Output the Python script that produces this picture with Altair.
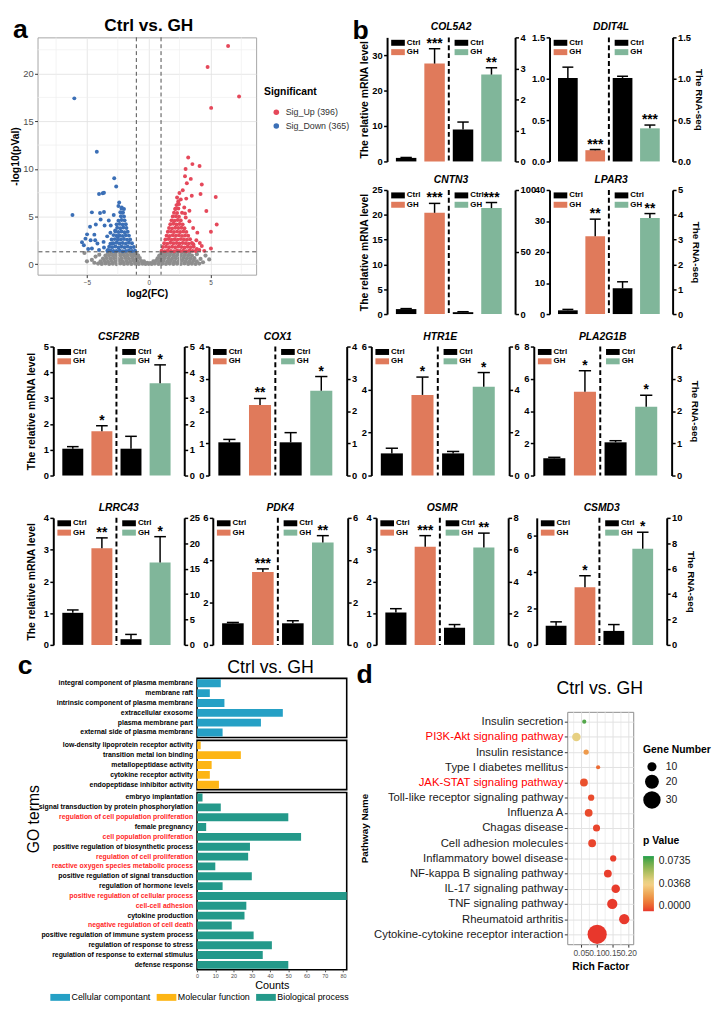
import json
import altair as alt
import pandas as pd

FONT = "Liberation Sans"

# ======================= panel a : volcano =======================
n_up = 396
n_down = 365
fc_threshold = [-1.0, 1.0]
p_threshold = [1.3]
fc_major_ticks = [-5, 0, 5]
fc_minor_ticks = [-7.5, -2.5, 2.5, 7.5]
lp_major_ticks = [0, 5, 10, 15, 20]
lp_minor_ticks = [2.5, 7.5, 12.5, 17.5, 22.5]

up_points = [
    (6.43, 22.9), (4.77, 20.7), (7.32, 17.6), (5.06, 16.4), (3.20, 11.2), (3.54, 10.5), (4.12, 10.3),
    (2.99, 9.98), (2.94, 9.22), (3.41, 8.95), (3.09, 8.50), (4.30, 8.37), (2.76, 7.75), (2.49, 7.47),
    (4.20, 7.37), (3.49, 7.19), (5.43, 7.06), (3.04, 6.88), (2.39, 6.40), (2.17, 5.82), (2.88, 5.95),
    (4.67, 5.58), (2.94, 5.33), (5.51, 4.16), (5.04, 3.41), (3.94, 3.31), (3.86, 2.51), (4.14, 2.23),
    (5.04, 1.65), (3.62, 2.10), (4.30, 1.90), (4.10, 1.50), (2.60, 6.80), (2.30, 7.00), (3.30, 4.50),
    (3.60, 3.80), (4.50, 1.40), (3.00, 4.90), (2.70, 5.40), (3.90, 1.60), (3.30, 5.60),
    (1.05, 1.42), (1.30, 1.37), (1.55, 1.44), (1.80, 1.40), (2.05, 1.36), (2.30, 1.45), (2.55, 1.39),
    (2.80, 1.42), (3.05, 1.37), (3.30, 1.44), (3.55, 1.40), (3.80, 1.38),
    (1.15, 1.80), (1.40, 1.84), (1.65, 1.77), (1.90, 1.82), (2.15, 1.78), (2.40, 1.85), (2.65, 1.80),
    (2.90, 1.76), (3.15, 1.83), (3.40, 1.79), (3.65, 1.82),
    (1.25, 2.20), (1.50, 2.16), (1.75, 2.24), (2.00, 2.19), (2.25, 2.22), (2.50, 2.17), (2.75, 2.23),
    (3.00, 2.20), (3.25, 2.16), (3.50, 2.22),
    (1.35, 2.60), (1.60, 2.64), (1.85, 2.57), (2.10, 2.62), (2.35, 2.58), (2.60, 2.63), (2.85, 2.60),
    (3.10, 2.56), (3.35, 2.62),
    (1.45, 3.00), (1.70, 2.96), (1.95, 3.04), (2.20, 2.99), (2.45, 3.03), (2.70, 2.97), (2.95, 3.02), (3.20, 2.98),
    (1.55, 3.40), (1.80, 3.44), (2.05, 3.37), (2.30, 3.42), (2.55, 3.38), (2.80, 3.43), (3.05, 3.39),
    (1.65, 3.80), (1.90, 3.76), (2.15, 3.83), (2.40, 3.79), (2.65, 3.82), (2.90, 3.77),
    (1.75, 4.20), (2.00, 4.24), (2.25, 4.17), (2.50, 4.22), (2.75, 4.18),
    (1.85, 4.60), (2.10, 4.56), (2.35, 4.63), (2.60, 4.58),
    (1.95, 5.00), (2.20, 5.04), (2.45, 4.97), (2.05, 5.40), (2.30, 5.37),
    (2.15, 5.80), (2.40, 5.84), (2.25, 6.20), (2.45, 6.30), (2.40, 6.60),
]

down_points = [
    (-6.02, 17.4), (-4.20, 11.8), (-6.17, 5.16), (-2.79, 9.02), (-2.63, 8.16), (-4.02, 7.37), (-3.72, 7.45),
    (-3.62, 7.50), (-2.39, 6.47), (-4.60, 5.44), (-3.94, 5.37), (-3.62, 5.47), (-4.28, 4.16), (-4.75, 3.92),
    (-3.89, 4.68), (-3.23, 4.58), (-3.57, 4.06), (-2.83, 5.16), (-3.07, 4.06), (-4.99, 3.13), (-5.12, 2.68),
    (-5.25, 1.99), (-4.70, 2.51), (-4.33, 2.51), (-4.15, 2.17), (-4.60, 1.65), (-4.02, 1.48), (-3.65, 2.34),
    (-3.36, 2.92), (-3.62, 1.75), (-2.97, 2.17), (-2.71, 3.54), (-2.50, 2.85), (-2.18, 5.95), (-2.10, 5.44),
    (-5.40, 2.30), (-4.90, 1.60), (-3.30, 1.50), (-3.10, 3.30), (-4.40, 3.10), (-2.45, 6.10), (-2.00, 5.80),
    (-1.10, 1.42), (-1.35, 1.38), (-1.60, 1.45), (-1.85, 1.40), (-2.10, 1.36), (-2.35, 1.44), (-2.60, 1.40),
    (-2.85, 1.38), (-3.10, 1.45), (-3.35, 1.41),
    (-1.20, 1.80), (-1.45, 1.76), (-1.70, 1.84), (-1.95, 1.78), (-2.20, 1.82), (-2.45, 1.75), (-2.70, 1.85),
    (-2.95, 1.79), (-3.20, 1.83),
    (-1.35, 2.20), (-1.60, 2.25), (-1.85, 2.16), (-2.10, 2.22), (-2.35, 2.18), (-2.60, 2.24), (-2.85, 2.20),
    (-3.10, 2.15),
    (-1.50, 2.60), (-1.75, 2.56), (-2.00, 2.64), (-2.25, 2.60), (-2.50, 2.57), (-2.75, 2.63), (-3.00, 2.60),
    (-1.60, 3.00), (-1.85, 3.04), (-2.10, 2.97), (-2.35, 3.02), (-2.60, 2.98), (-2.85, 3.05),
    (-1.70, 3.40), (-1.95, 3.36), (-2.20, 3.43), (-2.45, 3.38), (-2.70, 3.42),
    (-1.80, 3.80), (-2.05, 3.84), (-2.30, 3.77), (-2.55, 3.82),
    (-1.85, 4.20), (-2.10, 4.16), (-2.35, 4.23), (-2.60, 4.18),
    (-1.95, 4.60), (-2.20, 4.64), (-2.45, 4.57), (-2.00, 5.00), (-2.25, 5.04),
    (-2.10, 5.40), (-2.30, 5.45), (-2.20, 5.85),
]

ns_points = [
    (-4.1, 0.06), (-3.8, 0.03), (-3.5, 0.08), (-3.2, 0.02), (-2.9, 0.05), (-2.6, 0.01), (-2.3, 0.07),
    (-2.0, 0.03), (-1.7, 0.05), (-1.4, 0.02), (-1.1, 0.06), (-0.8, 0.03), (-0.5, 0.05), (-0.25, 0.02),
    (0.0, 0.04), (0.25, 0.02), (0.5, 0.06), (0.8, 0.03), (1.1, 0.05), (1.4, 0.02), (1.7, 0.06), (2.0, 0.03),
    (2.3, 0.05), (2.6, 0.02), (2.9, 0.07), (3.2, 0.03), (3.5, 0.05), (3.8, 0.02), (4.1, 0.06),
    (-3.9, 0.30), (-3.6, 0.34), (-3.3, 0.29), (-3.0, 0.33), (-2.7, 0.31), (-2.4, 0.35), (-2.1, 0.30),
    (-1.8, 0.33), (-1.5, 0.29), (-1.2, 0.34), (-0.9, 0.31), (-0.6, 0.33), (-0.38, 0.30), (0.38, 0.31),
    (0.6, 0.34), (0.9, 0.30), (1.2, 0.33), (1.5, 0.29), (1.8, 0.34), (2.1, 0.31), (2.4, 0.30), (2.7, 0.35),
    (3.0, 0.32), (3.3, 0.29), (3.6, 0.33), (3.9, 0.30),
    (-3.7, 0.60), (-3.4, 0.64), (-3.1, 0.60), (-2.8, 0.63), (-2.5, 0.59), (-2.2, 0.62), (-1.9, 0.65),
    (-1.6, 0.60), (-1.3, 0.63), (-1.0, 0.60), (-0.72, 0.64), (0.72, 0.62), (1.0, 0.60), (1.3, 0.64),
    (1.6, 0.61), (1.9, 0.60), (2.2, 0.63), (2.5, 0.60), (2.8, 0.64), (3.1, 0.61), (3.4, 0.60), (3.7, 0.63),
    (-3.5, 0.90), (-3.2, 0.94), (-2.9, 0.90), (-2.6, 0.93), (-2.3, 0.91), (-2.0, 0.95), (-1.7, 0.90),
    (-1.4, 0.93), (-1.15, 0.91), (-0.92, 0.94), (0.92, 0.92), (1.15, 0.90), (1.4, 0.94), (1.7, 0.91),
    (2.0, 0.90), (2.3, 0.93), (2.6, 0.90), (2.9, 0.94), (3.2, 0.91), (3.5, 0.90),
    (-3.3, 1.18), (-3.0, 1.20), (-2.7, 1.16), (-2.4, 1.20), (-2.1, 1.17), (-1.8, 1.21), (-1.5, 1.18),
    (-1.25, 1.20), (-1.05, 1.17), (1.05, 1.19), (1.25, 1.17), (1.5, 1.20), (1.8, 1.18), (2.1, 1.21),
    (2.4, 1.17), (2.7, 1.20), (3.0, 1.18), (3.3, 1.19),
    (-5.2, 1.17), (-4.3, 0.80), (-4.6, 0.45), (-4.4, 0.15), (-5.0, 0.30), (4.4, 0.20), (4.2, 0.55),
    (4.6, 0.90), (4.9, 0.50), (-0.12, 0.14), (0.12, 0.12), (-0.85, 0.90), (0.85, 0.88), (-4.0, 1.00), (3.9, 1.05),
]

# ======================= panel b : qPCR vs RNA-seq =======================
genes = ["COL5A2", "DDIT4L", "CNTN3", "LPAR3", "CSF2RB", "COX1", "HTR1E", "PLA2G1B",
         "LRRC43", "PDK4", "OSMR", "CSMD3"]
qpcr_ctrl = [1.0, 1.01, 1.0, 1.2, 1.04, 1.03, 1.03, 1.07, 1.01, 1.02, 1.02, 1.06]
qpcr_ctrl_err = [0.12, 0.13, 0.1, 0.3, 0.08, 0.09, 0.24, 0.06, 0.09, 0.04, 0.12, 0.21]
qpcr_gh = [27.6, 0.136, 20.4, 25.1, 1.72, 2.19, 3.75, 5.2, 3.04, 3.44, 3.09, 3.17]
qpcr_gh_err = [4.2, 0.008, 1.9, 5.5, 0.21, 0.20, 0.83, 1.3, 0.33, 0.15, 0.35, 0.64]
seq_ctrl = [1.03, 1.01, 1.5, 1.04, 1.04, 1.03, 1.03, 1.03, 1.12, 1.02, 1.08, 1.10]
seq_ctrl_err = [0.24, 0.02, 0.4, 0.26, 0.48, 0.30, 0.09, 0.05, 0.94, 0.12, 0.20, 0.50]
seq_gh = [2.80, 0.40, 85.4, 3.87, 3.58, 2.63, 4.13, 2.13, 16.2, 4.84, 6.14, 7.57]
seq_gh_err = [0.22, 0.04, 4.5, 0.18, 0.71, 0.44, 0.66, 0.36, 5.1, 0.32, 0.90, 1.30]
stars_qpcr = ["***", "***", "***", "**", "*", "**", "*", "*", "**", "***", "***", "*"]
stars_seq = ["**", "***", "***", "**", "*", "*", "*", "*", "*", "**", "**", "*"]
qpcr_axis_max = [35, 1.5, 25, 40, 5, 4, 6, 8, 4, 6, 4, 7]
qpcr_axis_ticks = [[0, 10, 20, 30], [0, 0.5, 1.0, 1.5], [0, 5, 10, 15, 20, 25], [0, 10, 20, 30, 40],
                   [0, 1, 2, 3, 4, 5], [0, 1, 2, 3, 4], [0, 2, 4, 6], [0, 2, 4, 6, 8],
                   [0, 1, 2, 3, 4], [0, 2, 4, 6], [0, 1, 2, 3, 4], [0, 2, 4, 6]]
seq_axis_max = [4, 1.5, 100, 5, 5, 4, 6, 4, 25, 6, 8, 10]
seq_axis_ticks = [[0, 1, 2, 3, 4], [0, 0.5, 1.0, 1.5], [0, 50, 100], [0, 1, 2, 3, 4, 5],
                  [0, 1, 2, 3, 4, 5], [0, 1, 2, 3, 4], [0, 2, 4, 6], [0, 1, 2, 3, 4],
                  [0, 5, 10, 15, 20, 25], [0, 2, 4, 6], [0, 2, 4, 6, 8], [0, 2, 4, 6, 8, 10]]
groups = ["Ctrl", "GH"]

# ======================= panel c : GO =======================
cc_terms = ["integral component of plasma membrane", "membrane raft", "intrinsic component of plasma membrane",
            "extracellular exosome", "plasma membrane part", "external side of plasma membrane"]
cc_counts = [13, 7, 15, 47, 35, 14]
mf_terms = ["low-density lipoprotein receptor activity", "transition metal ion binding",
            "metallopeptidase activity", "cytokine receptor activity", "endopeptidase inhibitor activity"]
mf_counts = [2, 24, 8, 7, 12]
bp_terms = ["embryo implantation", "signal transduction by protein phosphorylation",
            "regulation of cell population proliferation", "female pregnancy", "cell population proliferation",
            "positive regulation of biosynthetic process", "regulation of cell proliferation",
            "reactive oxygen species metabolic process", "positive regulation of signal transduction",
            "regulation of hormone levels", "positive regulation of cellular process", "cell-cell adhesion",
            "cytokine production", "negative regulation of cell death",
            "positive regulation of immune system process", "regulation of response to stress",
            "regulation of response to external stimulus", "defense response"]
bp_counts = [3, 13, 50, 5, 57, 29, 28, 10, 30, 14, 83, 27, 26, 19, 31, 41, 36, 50]
go_red_terms = ["regulation of cell population proliferation", "cell population proliferation",
                "regulation of cell proliferation", "reactive oxygen species metabolic process",
                "positive regulation of cellular process", "cell-cell adhesion",
                "negative regulation of cell death"]
go_categories = ["Cellular compontant", "Molecular function", "Biological process"]
go_colors = ["#25A0C5", "#FDB515", "#24998A"]
go_count_ticks = [0, 10, 20, 30, 40, 50, 60, 70, 80]

# ======================= panel d : KEGG =======================
pathways = ["Insulin secretion", "PI3K-Akt signaling pathway", "Insulin resistance", "Type I diabetes mellitus",
            "JAK-STAT signaling pathway", "Toll-like receptor signaling pathway", "Influenza A",
            "Chagas disease", "Cell adhesion molecules", "Inflammatory bowel disease",
            "NF-kappa B signaling pathway", "IL-17 signaling pathway", "TNF signaling pathway",
            "Rheumatoid arthritis", "Cytokine-cytokine receptor interaction"]
rich_factor = [0.060, 0.035, 0.066, 0.104, 0.059, 0.082, 0.074, 0.099, 0.085, 0.152, 0.135, 0.160,
               0.149, 0.187, 0.101]
gene_number = [4, 9, 5, 4, 8, 6, 8, 7, 8, 6, 8, 9, 12, 12, 36]
p_value = [0.068, 0.040, 0.020, 0.009, 0.004, 0.003, 0.003, 0.002, 0.002, 0.001, 0.001, 0.0006,
           0.0004, 0.0002, 0.00001]
kegg_red = ["PI3K-Akt signaling pathway", "JAK-STAT signaling pathway"]
p_legend_values = [0.0, 0.0368, 0.0735]
gene_legend_values = [10, 20, 30]
rich_ticks = [0.025, 0.05, 0.075, 0.1, 0.125, 0.15, 0.175, 0.2]

# ---------------------------------------------------------------------------
RED = "#E5485A"
BLUE = "#3B6FB6"
GREY = "#8E8E8E"
ORANGE = "#E07A5B"
GREEN = "#80B69A"


def ext(x, y):
    """tiny white anchor point that fixes the bounds used by the concat layout"""
    return alt.Chart(pd.DataFrame({"k": [0]})).mark_rule(color="white", strokeWidth=1).encode(
        x=alt.value(x), x2=alt.value(x), y=alt.value(y), y2=alt.value(y))


def spacer(w, h):
    return alt.Chart(pd.DataFrame({"k": [0]})).mark_rule(color="white", strokeWidth=0.5).encode(
        x=alt.value(0), x2=alt.value(0), y=alt.value(0), y2=alt.value(0)).properties(
        width=w, height=h, view=alt.ViewBackground(stroke=None))


def label(txt, x, y, size, weight="normal", style="normal", align="center",
          baseline="alphabetic", angle=None, color="black"):
    kw = dict(fontSize=size, fontWeight=weight, fontStyle=style, align=align,
              baseline=baseline, color=color)
    if angle is not None:
        kw["angle"] = angle
    return alt.Chart(pd.DataFrame({"t": [txt]})).mark_text(**kw).encode(
        x=alt.value(x), y=alt.value(y), text="t:N")


# ======================= build panel a =======================
VW, VH = 222, 241
vxs = alt.Scale(domain=[-9.0, 8.7], nice=False, zero=False)
vys = alt.Scale(domain=[-1.1, 23.8], nice=False, zero=False)
vxa = alt.Axis(values=fc_major_ticks, grid=True, gridColor="#E0E0E0", gridWidth=0.8,
               tickColor="#333333", tickSize=3, domain=False, labelFontSize=6.5, labelColor="#4D4D4D",
               labelPadding=2, labelFlush=False, labelOverlap=False, title="log2(FC)",
               titleFontSize=10.5, titleFontWeight="bold", titleColor="black", titlePadding=3)
vya = alt.Axis(values=lp_major_ticks, grid=True, gridColor="#E0E0E0", gridWidth=0.8,
               tickColor="#333333", tickSize=3, domain=False, labelFontSize=9.5, labelColor="#4D4D4D",
               labelPadding=1.5, labelFlush=False, labelOverlap=False, title="-log10(pVal)",
               titleFontSize=10.5, titleFontWeight="bold", titleColor="black", titlePadding=2)
up_lab = f"Sig_Up ({n_up})"
dn_lab = f"Sig_Down ({n_down})"
ns_df = pd.DataFrame(ns_points, columns=["fc", "lp"])
sig_df = pd.DataFrame([(x, y, up_lab) for x, y in up_points] + [(x, y, dn_lab) for x, y in down_points],
                      columns=["fc", "lp", "sig"])
minor_gx = alt.Chart(pd.DataFrame({"v": fc_minor_ticks})).mark_rule(color="#EFEFEF", strokeWidth=0.7).encode(
    x=alt.X("v:Q", scale=vxs, axis=None))
minor_gy = alt.Chart(pd.DataFrame({"v": lp_minor_ticks})).mark_rule(color="#EFEFEF", strokeWidth=0.7).encode(
    y=alt.Y("v:Q", scale=vys, axis=None))
ns_layer = alt.Chart(ns_df).mark_circle(size=18, opacity=1, color=GREY).encode(
    x=alt.X("fc:Q", scale=vxs, axis=vxa), y=alt.Y("lp:Q", scale=vys, axis=vya))
sig_layer = alt.Chart(sig_df).mark_circle(size=16, opacity=1).encode(
    x=alt.X("fc:Q", scale=vxs, axis=None), y=alt.Y("lp:Q", scale=vys, axis=None),
    color=alt.Color("sig:N", scale=alt.Scale(domain=[up_lab, dn_lab], range=[RED, BLUE]),
                    legend=alt.Legend(title="Significant", orient="none", legendX=230, legendY=51,
                                      titleFontSize=10.5, titleFontWeight="bold", titleColor="black",
                                      titlePadding=10, labelFontSize=9, labelColor="#333333",
                                      symbolType="circle", symbolSize=32, symbolStrokeWidth=0,
                                      symbolOffset=8, labelOffset=5, rowPadding=4, padding=0)))
vline = alt.Chart(pd.DataFrame({"v": fc_threshold})).mark_rule(
    strokeDash=[4, 3], color="#4D4D4D", strokeWidth=1).encode(x=alt.X("v:Q", scale=vxs, axis=None))
hline = alt.Chart(pd.DataFrame({"v": p_threshold})).mark_rule(
    strokeDash=[4, 3], color="#4D4D4D", strokeWidth=1).encode(y=alt.Y("v:Q", scale=vys, axis=None))
volcano = alt.layer(
    ns_layer, minor_gx, minor_gy, sig_layer, vline, hline,
    label("Ctrl vs. GH", 113, -20, 17.5, weight="bold", baseline="top"),
    label("a", -25, -20, 27, weight="bold", align="left", baseline="top"),
    ext(-25, -20), ext(318, 0),
).resolve_scale(x="independent", y="independent").properties(
    width=VW, height=VH, view=alt.ViewBackground(stroke="#A6A6A6", strokeWidth=1))


# ======================= build panel b =======================
SLOT_DOM = [-0.67, 3.83]
TICK, LPAD, LFS = 3.5, 1.5, 9.5


def label_width(ticks, fmt):
    labs = [format(t, ".1f") if fmt == ".1f" else str(int(t)) for t in ticks]
    return max(sum(0.278 * LFS if ch == "." else 0.556 * LFS for ch in s) for s in labs)


def bar_half(slots, vals, errs, stars, ymax, ticks, fmt, colors, orient, title, title_x,
             legend_x, h, xs, x_axis):
    df = pd.DataFrame({"slot": slots, "grp": groups, "val": vals, "err": errs, "star": stars})
    base = alt.Chart(df).transform_calculate(
        x0="datum.slot - 0.36", x1="datum.slot + 0.36",
        c0="datum.slot - 0.2", c1="datum.slot + 0.2",
        top="datum.val + datum.err", base0="0")
    ys = alt.Scale(domain=[0, ymax], nice=False, zero=True)
    kw = dict(orient=orient, values=ticks, format=fmt, grid=False, domainWidth=2, domainColor="black",
              tickColor="black", tickWidth=1.5, tickSize=TICK, labelFontSize=LFS, labelFontWeight="bold",
              labelColor="black", labelPadding=LPAD, labelFlush=False, labelOverlap=False)
    if title:
        kw.update(title=title, titleX=title_x, titleY=h / 2, titleAngle=270 if orient == "left" else 90,
                  titleAlign="center", titleBaseline="middle", titleFontSize=10.5 if orient == "left" else 10,
                  titleFontWeight="bold", titleColor="black")
    else:
        kw["title"] = None
    yax = alt.Axis(**kw)
    leg = alt.Legend(orient="none", legendX=legend_x, legendY=1, title=None,
                     symbolType="M-1.6,-0.7H1.6V0.7H-1.6Z", symbolSize=75, symbolStrokeWidth=0,
                     symbolOpacity=1, labelFontSize=8, labelFontWeight="bold", labelColor="black",
                     labelOffset=4.5, rowPadding=0.5, padding=0)
    bars = base.mark_bar().encode(
        x=alt.X("x0:Q", scale=xs, axis=x_axis), x2="x1:Q",
        y=alt.Y("val:Q", scale=ys, axis=yax), y2="base0:Q",
        color=alt.Color("grp:N", scale=alt.Scale(domain=groups, range=colors), legend=leg))
    err = base.mark_rule(color="black", strokeWidth=1.5).encode(
        x=alt.X("slot:Q", scale=xs, axis=None), y=alt.Y("val:Q", scale=ys, axis=None), y2="top:Q")
    cap = base.mark_rule(color="black", strokeWidth=1.5).encode(
        x=alt.X("c0:Q", scale=xs, axis=None), x2="c1:Q", y=alt.Y("top:Q", scale=ys, axis=None))
    st = base.mark_text(fontSize=14, fontWeight="bold", baseline="alphabetic", dy=-1, color="black").encode(
        x=alt.X("slot:Q", scale=xs, axis=None), y=alt.Y("top:Q", scale=ys, axis=None), text="star:N")
    return [bars, err, cap, st]


def mini(i, w, h, left_title=False, right_title=False, extra=()):
    xs = alt.Scale(domain=SLOT_DOM, nice=False, zero=False)
    dash_px = (1.5 - SLOT_DOM[0]) / (SLOT_DOM[1] - SLOT_DOM[0]) * w
    x_axis = alt.Axis(domain=True, domainWidth=2, domainColor="black", ticks=False, labels=False,
                      title=None, grid=False)
    fmt_l = ".1f" if qpcr_axis_max[i] < 2 else "d"
    fmt_r = ".1f" if seq_axis_max[i] < 2 else "d"
    rt_x = max(23, TICK + LPAD + label_width(seq_axis_ticks[i], fmt_r) + 3 + 5.5)
    left = bar_half([0, 1], [qpcr_ctrl[i], qpcr_gh[i]], [qpcr_ctrl_err[i], qpcr_gh_err[i]],
                    ["", stars_qpcr[i]], qpcr_axis_max[i], qpcr_axis_ticks[i], fmt_l,
                    ["#000000", ORANGE], "left", "The relative mRNA level" if left_title else None,
                    -22.5, 6.6, h, xs, x_axis)
    right = bar_half([2, 3], [seq_ctrl[i], seq_gh[i]], [seq_ctrl_err[i], seq_gh_err[i]],
                     ["", stars_seq[i]], seq_axis_max[i], seq_axis_ticks[i], fmt_r,
                     ["#000000", GREEN], "right", "The RNA-seq" if right_title else None,
                     rt_x, dash_px + 8.3, h, xs, None)
    dash = alt.Chart(pd.DataFrame({"v": [1.5]})).mark_rule(
        strokeDash=[5, 3], strokeWidth=2, color="black").encode(x=alt.X("v:Q", scale=xs, axis=None))
    ttl = label(genes[i], w / 2, -7, 10.5, weight="bold", style="italic")
    return alt.layer(*left, *right, dash, ttl, *extra).resolve_scale(
        y="independent", color="independent").properties(
        width=w, height=h, view=alt.ViewBackground(stroke=None))


H1, H2, H3 = 126, 131, 129
b11 = mini(0, 130, H1, left_title=True,
           extra=[label("b", -35, -19, 27, weight="bold", align="left", baseline="top"),
                  ext(-35, -20), ext(0, H1 + 6)])
b12 = mini(1, 125, H1, right_title=True)
b21 = mini(2, 130, H1, left_title=True, extra=[ext(0, -21), ext(0, H1 + 8)])
b22 = mini(3, 125, H1, right_title=True)
bgrid = alt.vconcat(
    alt.hconcat(b11, b12, spacing=35, bounds="flush").resolve_scale(color="independent"),
    alt.hconcat(b21, b22, spacing=35, bounds="flush").resolve_scale(color="independent"),
    spacing=0).resolve_scale(color="independent")
row1 = alt.hconcat(spacer(1, 1), volcano, bgrid, spacing=0).resolve_scale(color="independent")

row2 = alt.hconcat(
    spacer(20, 1),
    mini(4, 133, H2, left_title=True, extra=[ext(0, -23), ext(0, H2 + 6)]),
    mini(5, 140, H2), mini(6, 140, H2), mini(7, 140, H2, right_title=True),
    spacing=25, bounds="flush").resolve_scale(color="independent")
row3 = alt.hconcat(
    spacer(16, 1),
    mini(8, 133, H3, left_title=True, extra=[ext(0, -35), ext(0, H3 + 6)]),
    mini(9, 137, H3), mini(10, 134, H3), mini(11, 132, H3, right_title=True),
    spacing=29, bounds="flush").resolve_scale(color="independent")

# ======================= build panel c =======================
GO_W = 152
go_xs = alt.Scale(domain=[0, 82], nice=False, zero=True)
red_test = "indexof(" + json.dumps(go_red_terms) + ", datum.value) >= 0"


def go_box(terms, counts, cat_idx, h, x_axis=None, legend=None, extra=()):
    df = pd.DataFrame({"term": terms, "count": counts, "cat": [go_categories[cat_idx]] * len(terms)})
    yax = alt.Axis(title=None, labelFontSize=7, labelFontWeight="bold",
                   labelColor={"condition": {"test": red_test, "value": "#FF1F1F"}, "value": "#000000"},
                   ticks=False, domain=False, labelPadding=4.5, labelLimit=280, grid=False)
    if legend is not None:
        col = alt.Color("cat:N", scale=alt.Scale(domain=go_categories, range=go_colors), legend=legend)
    else:
        col = alt.value(go_colors[cat_idx])
    bars = alt.Chart(df).mark_bar(clip=True).encode(
        y=alt.Y("term:N", sort=terms, scale=alt.Scale(paddingInner=0.2, paddingOuter=0.1), axis=yax),
        x=alt.X("count:Q", scale=go_xs, axis=x_axis), color=col)
    return alt.layer(bars, *extra).properties(
        width=GO_W, height=h, view=alt.ViewBackground(stroke="black", strokeWidth=1.6))


go_xaxis = alt.Axis(values=go_count_ticks, labelFontSize=5.5, labelColor="#4D4D4D", tickColor="#4D4D4D",
                    tickSize=2, domain=False, grid=False, labelPadding=1.5, labelFlush=False,
                    title="Counts", titleFontSize=11, titleFontWeight="normal", titleColor="black",
                    titlePadding=1)
go_legend = alt.Legend(orient="none", direction="horizontal", legendX=-144, legendY=203, title=None,
                       symbolType="M-2,-0.7H2V0.7H-2Z", symbolSize=100, symbolStrokeWidth=0,
                       symbolOpacity=1, labelFontSize=9, labelColor="black", labelOffset=6.5,
                       columnPadding=6, padding=0)
cc_box = go_box(cc_terms, cc_counts, 0, 60, extra=[
    label("Ctrl vs. GH", 74.7, -5, 18),
    label("c", -182, -25, 27, weight="bold", align="left", baseline="top"),
    ext(-182, -25)])
mf_box = go_box(mf_terms, mf_counts, 1, 50, extra=[
    label("GO terms", -166, 80, 16, baseline="middle", angle=270)])
bp_box = go_box(bp_terms, bp_counts, 2, 180, x_axis=go_xaxis, legend=go_legend)
go_col = alt.vconcat(cc_box, mf_box, bp_box, spacing=3, bounds="flush").resolve_scale(color="independent")

# ======================= build panel d =======================
KW, KH = 67, 236
kxs = alt.Scale(domain=[0.006, 0.2156], nice=False, zero=False)
k_major = "round(datum.value * 1000) % 50 === 0"
kegg_red_test = "indexof(" + json.dumps(kegg_red) + ", datum.value) >= 0"
kxa = alt.Axis(values=rich_ticks, format=".2f", labelExpr=f"{k_major} ? datum.label : ''",
               gridColor={"condition": {"test": k_major, "value": "#E2E2E2"}, "value": "#EEEEEE"},
               tickColor={"condition": {"test": k_major, "value": "#333333"}, "value": "transparent"},
               tickSize=3, labelFontSize=8.5, labelColor="#4D4D4D", labelPadding=1.5, labelOverlap=False,
               labelFlush=False, domain=False, title="Rich Factor", titleFontSize=10.5,
               titleFontWeight="bold", titleColor="black", titlePadding=5)
kya = alt.Axis(title="Pathway Name", titleFontSize=10, titleFontWeight="bold", titleColor="black",
               titlePadding=4, labelFontSize=11.5,
               labelColor={"condition": {"test": kegg_red_test, "value": "#FF0000"}, "value": "#1A1A1A"},
               labelLimit=300, tickSize=3, tickColor="#333333", labelPadding=1.5, domain=False,
               grid=True, gridColor="#E2E2E2")
kdf = pd.DataFrame({"path": pathways, "rf": rich_factor, "n": gene_number, "p": p_value})
kpts = alt.Chart(kdf).mark_circle(opacity=1).encode(
    x=alt.X("rf:Q", scale=kxs, axis=kxa),
    y=alt.Y("path:N", sort=pathways, scale=alt.Scale(type="point", padding=0.65), axis=kya),
    size=alt.Size("n:Q", scale=alt.Scale(domain=[4, 36], range=[18, 380], zero=False),
                  legend=alt.Legend(title="Gene Number", orient="none", legendX=77, legendY=34,
                                    values=gene_legend_values, titleFontSize=10.5, titleFontWeight="bold",
                                    titleColor="black", labelFontSize=10.5, labelColor="#1A1A1A",
                                    symbolFillColor="black", symbolStrokeColor="black",
                                    symbolStrokeWidth=0, symbolOpacity=1, symbolType="circle",
                                    titlePadding=6, rowPadding=2, labelOffset=5, padding=0)),
    color=alt.Color("p:Q", scale=alt.Scale(domain=[0, 0.03675, 0.0735],
                                           range=["#E8372C", "#F4D58D", "#1E9E4A"]),
                    legend=alt.Legend(title="p Value", orient="none", legendX=77, legendY=126,
                                      values=p_legend_values, format=".4f", gradientLength=56,
                                      gradientThickness=11, titleFontSize=10.5, titleFontWeight="bold",
                                      titleColor="black", labelFontSize=10.5, labelColor="#1A1A1A",
                                      titlePadding=10, labelOffset=5, padding=0, direction="vertical",
                                      gradientStrokeWidth=0, labelOverlap=False)),
)
kegg = alt.layer(kpts).properties(
    width=KW, height=KH, view=alt.ViewBackground(stroke="#8C8C8C", strokeWidth=1))
kegg_head = alt.layer(
    label("Ctrl vs. GH", 33, 16, 18),
    label("d", -214, -16, 27, weight="bold", align="left", baseline="top"),
    ext(0, 32),
).properties(width=KW, height=32, view=alt.ViewBackground(stroke=None))
kegg_col = alt.vconcat(kegg_head, kegg, spacing=0).resolve_scale(color="independent", size="independent")

row4 = alt.hconcat(spacer(1, 1), go_col, kegg_col, spacing=6).resolve_scale(
    color="independent", size="independent")

chart = alt.vconcat(row1, row2, row3, row4, spacing=0).resolve_scale(
    color="independent", size="independent").properties(padding=0).configure(
    font=FONT).configure_view(stroke=None)

chart.save("out.html", embed_options={"renderer": "svg", "actions": False})
